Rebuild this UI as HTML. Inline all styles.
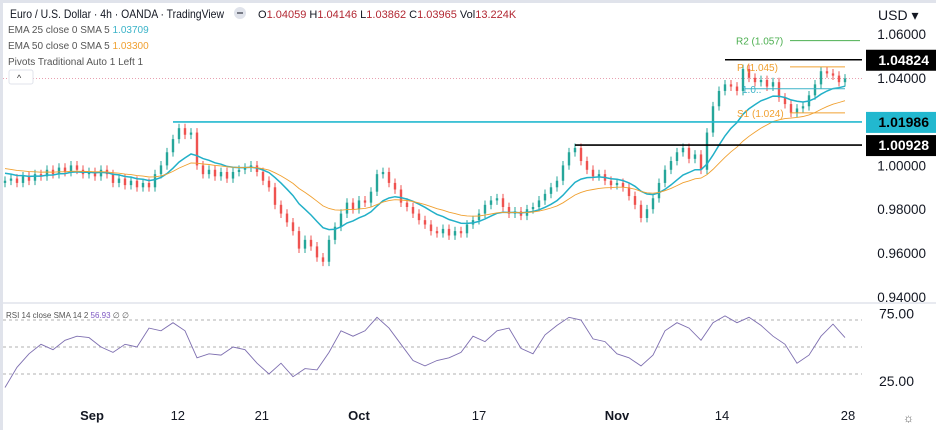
<!DOCTYPE html>
<html><head><meta charset="utf-8">
<style>
html,body{margin:0;padding:0;background:#fff;}
body{width:936px;height:430px;overflow:hidden;font-family:"Liberation Sans","DejaVu Sans",sans-serif;}
svg{display:block;}
</style></head>
<body>
<svg id="chart" width="936" height="430" viewBox="0 0 936 430" xmlns="http://www.w3.org/2000/svg">
  <rect x="0" y="0" width="936" height="430" fill="#fff"/>
  <rect x="1.5" y="1.5" width="940" height="440" fill="none" stroke="#e0e3eb" stroke-width="3"/>
  <line x1="3" y1="303" x2="936" y2="303" stroke="#e0e3eb" stroke-width="1.5"/>
  <g id="static"></g>
  <g id="candles"></g>
  <g id="overlay"></g>
  <g id="rsi"></g>
  <g id="text" font-size="12" fill="#131722">
    <text x="10" y="18" font-size="12" textLength="214" lengthAdjust="spacingAndGlyphs">Euro / U.S. Dollar · 4h · OANDA · TradingView</text>
    <circle cx="240" cy="13" r="6" fill="#e0e3eb"/>
    <rect x="237" y="12" width="6" height="2" fill="#787b86"/>
    <text x="258" y="18" font-size="11" fill="#b22833"><tspan fill="#131722">O</tspan>1.04059 <tspan fill="#131722">H</tspan>1.04146 <tspan fill="#131722">L</tspan>1.03862 <tspan fill="#131722">C</tspan>1.03965 <tspan fill="#131722">Vol</tspan>13.224K</text>
    <text x="8" y="33" font-size="10" fill="#555">EMA 25 close 0 SMA 5 <tspan fill="#3bb3c8">1.03709</tspan></text>
    <text x="8" y="49" font-size="10" fill="#555">EMA 50 close 0 SMA 5 <tspan fill="#f0a030">1.03300</tspan></text>
    <text x="8" y="65" font-size="10" fill="#555">Pivots Traditional Auto 1 Left 1</text>
    <rect x="9" y="70" width="24" height="14" fill="#fff" stroke="#e0e3eb" rx="2"/>
    <text x="17" y="81" font-size="9" fill="#333">^</text>
    <text x="878" y="20" font-size="14">USD ▾</text>
    <text x="6" y="318" font-size="8" fill="#555">RSI 14 close SMA 14 2 <tspan fill="#7e57c2">56.93</tspan> ∅ ∅</text>
    <text x="903" y="422" font-size="12" fill="#555">☼</text>
  </g>
</svg>
<script>
const closes=[0.993,0.994,0.992,0.995,0.993,0.996,0.995,0.998,0.996,0.999,0.997,1.000,0.998,0.996,0.997,0.995,0.998,0.996,0.992,0.994,0.991,0.993,0.990,0.992,0.990,0.996,1.000,1.006,1.012,1.017,1.014,1.015,1.000,0.996,0.998,0.995,0.997,0.994,0.997,0.998,0.999,1.000,0.997,0.993,0.990,0.982,0.978,0.974,0.970,0.962,0.966,0.963,0.958,0.956,0.966,0.972,0.978,0.983,0.980,0.984,0.983,0.988,0.996,0.997,0.992,0.989,0.983,0.981,0.978,0.975,0.973,0.970,0.969,0.971,0.968,0.970,0.969,0.973,0.975,0.978,0.982,0.984,0.985,0.981,0.978,0.979,0.977,0.980,0.981,0.984,0.987,0.990,0.993,1.000,1.006,1.008,1.002,0.998,0.995,0.996,0.993,0.991,0.992,0.990,0.986,0.982,0.976,0.980,0.985,0.992,0.998,1.002,1.006,1.008,1.003,1.005,0.998,1.015,1.027,1.034,1.037,1.036,1.034,1.044,1.040,1.038,1.039,1.036,1.038,1.031,1.028,1.024,1.026,1.027,1.032,1.037,1.043,1.042,1.041,1.038,1.0397];
const firstOpen=0.992;
const rsiValues=[20,35,45,52,48,55,58,57,50,46,52,50,64,62,68,62,42,45,44,50,48,38,30,38,28,34,33,46,62,58,62,72,64,52,40,36,40,42,46,58,54,62,64,49,45,59,66,72,70,56,54,45,42,36,44,62,68,64,55,68,73,68,72,66,58,52,38,44,58,67,57];
const priceTicks=[1.06,1.04,1.00,0.98,0.96,0.94];
const priceTickLabels=["1.06000","1.04000","1.00000","0.98000","0.96000","0.94000"];
const hLevels=[1.04824,1.01986,1.00928];
const hLevelLabels=["1.04824","1.01986","1.00928"];
const hLevelStartIdx=[120,28,95];
const hLevelColors=["#000","#22b8cf","#000"];
const pivotLevels=[1.057,1.045,1.035,1.024];
const pivotLabels=["R2 (1.057)","P (1.045)","1.0..","S1 (1.024)"];
const pivotColors=["#4caf50","#f0a030","#3bb3c8","#f0a030"];
const rsiTicks=[75,25];
const rsiBands=[70,50,30];
const timeLabels=["Sep","12","21","Oct","17","Nov","14","28"];
const timeLabelIdx=[14.5,28.8,42.8,59,79,102,119.5,140.5];

const NS="http://www.w3.org/2000/svg";
function mk(tag,attrs,parent){const e=document.createElementNS(NS,tag);for(const k in attrs)e.setAttribute(k,attrs[k]);parent.appendChild(e);return e;}
const xScale=i=>5+6*i;
const yP=p=>34+(1.06-p)*2190;
const yR=v=>347-(v-50)*1.35;
const rx=i=>5+12*i;
const gS=document.getElementById('static'),gC=document.getElementById('candles'),gO=document.getElementById('overlay'),gR=document.getElementById('rsi'),gT=document.getElementById('text');

priceTicks.forEach((p,k)=>{
  const t=mk('text',{x:926,y:yP(p)+5,'text-anchor':'end','font-size':13.5,fill:'#131722'},gT);
  t.textContent=priceTickLabels[k];
  
  
});
const cp=mk('line',{x1:3,y1:yP(closes[closes.length-1]),x2:862,y2:yP(closes[closes.length-1]),stroke:'#e8a0b0','stroke-dasharray':'1,2'},gS);



let prev=firstOpen;
closes.forEach((c,i)=>{
  const o=prev;prev=c;
  const up=c>=o;const col=up?'#26a69a':'#ef5350';
  const hi=Math.max(o,c)+0.002,lo=Math.min(o,c)-0.002;
  const x=xScale(i);
  const w=mk('line',{x1:x,y1:yP(hi),x2:x,y2:yP(lo),stroke:col,'stroke-width':1},gC);
  
  
  const top=yP(Math.max(o,c)),h=Math.max(1,yP(Math.min(o,c))-top);
  const b=mk('rect',{x:x-1.2,y:top,width:2.4,height:h,fill:col},gC);
  
  
});
function ema(n,init){const a=2/(n+1);let e=init;return closes.map(c=>e=e+a*(c-e));}
const ema25=ema(12,0.997),ema50=ema(25,0.999);
[[ema25,'#22b0c8','ema25-line'],[ema50,'#f0a030','ema50-line']].forEach(([arr,col,nm])=>{
  const d=arr.map((v,i)=>(i?'L':'M')+xScale(i)+','+yP(v).toFixed(1)).join('');
  const p=mk('path',{d:d,fill:'none',stroke:col,'stroke-width':nm==='ema25-line'?1.5:0.9},gO);
  
  
});
pivotLevels.forEach((p,k)=>{
  const y=yP(p);
  const l=mk('line',{x1:k===2?745:790,y1:y,x2:k===0?860:845,y2:y,stroke:pivotColors[k],'stroke-width':1},gO);
  
  
  const t=mk('text',{x:k===2?742:(k===0?736:737),y:y+4,'font-size':10,fill:pivotColors[k]},gO);
  t.textContent=pivotLabels[k];
  
  
});
hLevels.forEach((p,k)=>{
  const y=yP(p);
  const l=mk('line',{x1:xScale(hLevelStartIdx[k]),y1:y,x2:862,y2:y,stroke:hLevelColors[k],'stroke-width':1.6},gO);
  
  
  const r=mk('rect',{x:866,y:y-10,width:70,height:21,fill:hLevelColors[k]==='#000'?'#000':'#22b8cf'},gT);
  
  
  const t=mk('text',{x:929,y:y+5,'text-anchor':'end','font-size':14,'font-weight':'bold',fill:hLevelColors[k]==='#000'?'#fff':'#000'},gT);
  t.textContent=hLevelLabels[k];
  
  
});
rsiBands.forEach(v=>{
  const l=mk('line',{x1:3,y1:yR(v),x2:862,y2:yR(v),stroke:'#999','stroke-dasharray':'3,3','stroke-width':0.8},gR);
  
  
});
const rd=rsiValues.map((v,i)=>(i?'L':'M')+rx(i)+','+yR(v).toFixed(1)).join('');
const rp=mk('path',{d:rd,fill:'none',stroke:'#7e6fb0','stroke-width':0.9},gR);


rsiTicks.forEach(v=>{
  const t=mk('text',{x:914,y:yR(v)+5,'text-anchor':'end','font-size':14,fill:'#131722'},gT);
  t.textContent=v.toFixed(2);
  
  
});
timeLabels.forEach((s,k)=>{
  const t=mk('text',{x:xScale(timeLabelIdx[k]),y:420,'text-anchor':'middle','font-size':13,fill:'#131722','font-weight':isNaN(s)?'bold':'normal'},gT);
  t.textContent=s;
  
  
});
</script>
</body></html>
